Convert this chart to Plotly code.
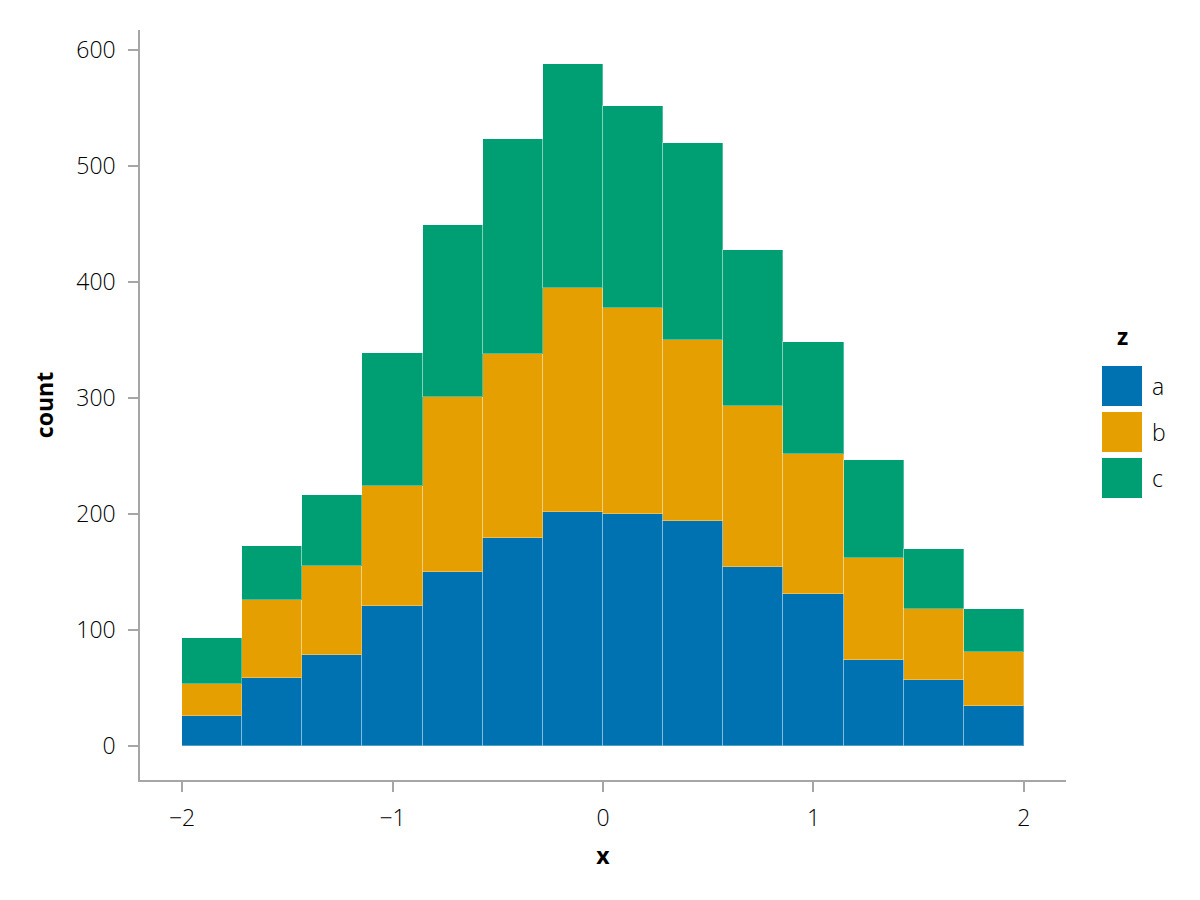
import numpy as np
import plotly.graph_objects as go

# histogram bins over x
x_min, x_max, n_bins = -2.0, 2.0, 14

# counts per bin for each group of z
groups = ["a", "b", "c"]
count_a = [26, 59, 78, 121, 150, 179, 202, 200, 194, 154, 131, 74, 57, 34]
count_b = [27, 67, 77, 103, 151, 159, 193, 178, 156, 139, 121, 88, 61, 47]
count_c = [40, 46, 61, 115, 148, 185, 193, 174, 170, 135, 96, 85, 52, 37]
colors = ["#0072B2", "#E69F00", "#009E73"]

edges = np.linspace(x_min, x_max, n_bins + 1)
centers = (edges[:-1] + edges[1:]) / 2
width = edges[1] - edges[0]

FONT = "Open Sans"
TXT = "#000"
fig = go.Figure()
for name, counts, col in zip(groups, [count_a, count_b, count_c], colors):
    fig.add_trace(go.Bar(x=centers, y=counts, width=width, name=name,
                         marker=dict(color=col, line=dict(color="rgba(255,255,255,0.3)", width=1)),
                         showlegend=False))

# the page body adds an 8px offset, so the margins are shifted to compensate
fig.update_layout(
    barmode="stack", bargap=0,
    width=1200, height=900,
    margin=dict(l=132, r=142, t=22, b=128),
    plot_bgcolor="white", paper_bgcolor="white",
    font=dict(family=FONT, size=23, color=TXT, weight=300),
)
axis_common = dict(showline=True, linecolor="#a6a6a6", linewidth=1.5,
                   ticks="outside", ticklen=10, tickcolor="#a6a6a6", tickwidth=1.5,
                   showgrid=False, zeroline=False, automargin=False,
                   tickfont=dict(family=FONT, size=23, color=TXT, weight=300))
fig.update_xaxes(range=[-2.2, 2.2], tickvals=[-2, -1, 0, 1, 2],
                 ticktext=["−2", "−1", "0", "1", "2"], ticklabelstandoff=7,
                 title=dict(text="x", font=dict(family=FONT, size=23, weight=700, color=TXT), standoff=16),
                 **axis_common)
fig.update_yaxes(range=[-29.4, 617.4], tickvals=[0, 100, 200, 300, 400, 500, 600],
                 ticklabelstandoff=8,
                 title=dict(text="count", font=dict(family=FONT, size=23, weight=700, color=TXT), standoff=16),
                 **axis_common)

# legend drawn as patches + labels, to the right of the plot (domain coords)
def dx(px):
    return (px - 140) / 926


def dy(py):
    return (780 - py) / 750


fig.add_annotation(text="<b>z</b>", xref="x domain", yref="y domain",
                   x=dx(1122), y=dy(336), xanchor="center", yanchor="middle",
                   showarrow=False, font=dict(family=FONT, size=23, color=TXT))
for i, (name, col) in enumerate(zip(groups, colors)):
    top = 366 + i * 46
    fig.add_shape(type="rect", xref="x domain", yref="y domain",
                  x0=dx(1102), x1=dx(1142), y0=dy(top + 40), y1=dy(top),
                  fillcolor=col, line=dict(width=0))
    fig.add_annotation(text=name, xref="x domain", yref="y domain",
                       x=dx(1150), y=dy(top + 20),
                       xanchor="left", yanchor="middle", showarrow=False,
                       font=dict(family=FONT, size=23, color=TXT, weight=300))

fig.write_html("out.html")
